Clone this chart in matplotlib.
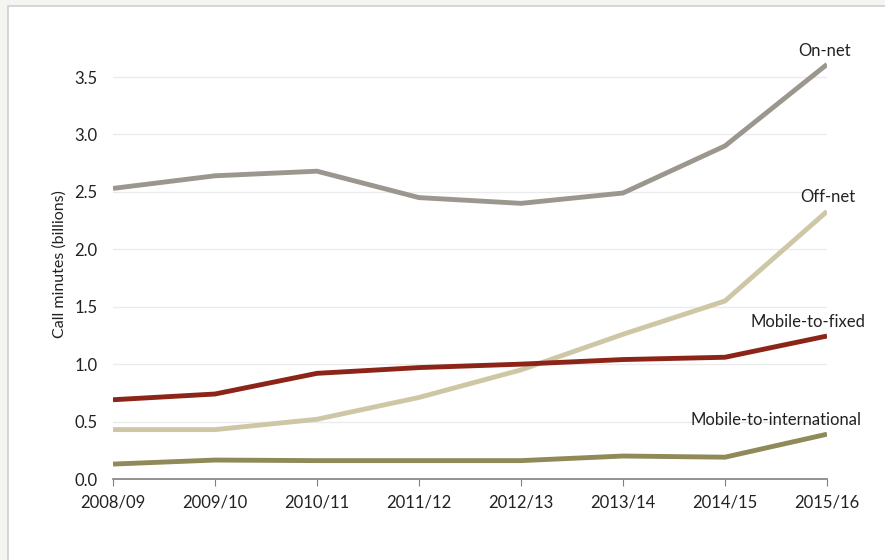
import matplotlib.pyplot as plt
from matplotlib.patches import Rectangle

years = ["2008/09", "2009/10", "2010/11", "2011/12", "2012/13", "2013/14", "2014/15", "2015/16"]
on_net = [2.53, 2.64, 2.68, 2.45, 2.40, 2.49, 2.90, 3.61]
off_net = [0.43, 0.43, 0.52, 0.71, 0.95, 1.26, 1.55, 2.33]
mob_fixed = [0.69, 0.74, 0.92, 0.97, 1.00, 1.04, 1.06, 1.245]
mob_intl = [0.13, 0.165, 0.16, 0.16, 0.16, 0.20, 0.19, 0.39]

plt.rcParams['font.family'] = ['Lato', 'DejaVu Sans']

fig = plt.figure(figsize=(8.85, 5.6), dpi=100, facecolor="#f4f4f0")
# white panel with thin grey border, behind the axes
fig.patches.append(Rectangle((8 / 885, -0.01), 1, 1.01 - 6 / 560, transform=fig.transFigure,
                             facecolor="white", edgecolor="#cfcfcf", lw=1.2, zorder=-10))

ax = fig.add_axes([113 / 885, 81 / 560, 714 / 885, 430.7 / 560])
ax.set_facecolor("none")

x = list(range(len(years)))
series = [
    (on_net, "#9b978f", "On-net", (-2, 13)),
    (off_net, "#cdc7a6", "Off-net", (1, 14)),
    (mob_fixed, "#8c2418", "Mobile-to-fixed", (-19, 14)),
    (mob_intl, "#8f8a58", "Mobile-to-international", (-51, 14)),
]
for vals, col, name, off in series:
    ax.plot(x, vals, color=col, lw=3.5, solid_capstyle="butt", zorder=3)
    ax.annotate(name, (x[-1], vals[-1]), xytext=off, textcoords="offset pixels",
                ha="center", va="center", fontsize=12, color="#222222")

ax.set_xlim(0, len(years) - 1)
ax.set_ylim(0, 3.75)
ax.set_xticks(x)
ax.set_xticklabels(years)
ax.set_yticks([0, 0.5, 1.0, 1.5, 2.0, 2.5, 3.0, 3.5])
ax.set_yticklabels(["0.0", "0.5", "1.0", "1.5", "2.0", "2.5", "3.0", "3.5"])
ax.yaxis.grid(True, color="#ebebeb", lw=1)
ax.set_axisbelow(True)
for s in ["top", "right", "left"]:
    ax.spines[s].set_visible(False)
ax.spines["bottom"].set_color("#808080")
ax.spines["bottom"].set_linewidth(1.2)
ax.tick_params(axis="y", length=0, pad=11, labelsize=12, labelcolor="#222222")
ax.tick_params(axis="x", length=5, color="#808080", pad=6, labelsize=12, labelcolor="#222222")
ax.set_ylabel("Call minutes (billions)", fontsize=11.5, color="#222222", labelpad=6)

fig.savefig("out.png", dpi=100, facecolor=fig.get_facecolor())
